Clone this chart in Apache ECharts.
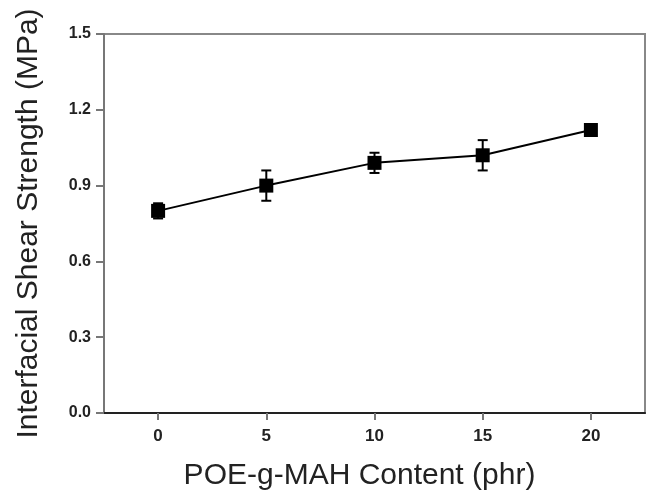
<!DOCTYPE html>
<html>
<head>
<meta charset="utf-8">
<script src="https://cdn.jsdelivr.net/npm/echarts@6/dist/echarts.min.js"></script>
<style>
  html, body { margin: 0; padding: 0; background: #fff; }
  #main { width: 661px; height: 497px; }
</style>
</head>
<body>
<div id="main"></div>
<script>
// POE-g-MAH content (phr)
const content = [0, 5, 10, 15, 20]
// interfacial shear strength (MPa)
const strength = [0.80, 0.90, 0.99, 1.02, 1.12]
// error (+/-)
const errors = [0.03, 0.06, 0.04, 0.06, 0.02]
const xTicks = [0, 5, 10, 15, 20]

const chartDom = document.getElementById('main')
const myChart = echarts.init(chartDom)

const font = '"Liberation Sans", Arial, sans-serif'

let option = {
  backgroundColor: '#ffffff',
  animation: false,
  grid: {
    left: 104,
    top: 34,
    right: 16,
    bottom: 84,
    show: true,
    borderColor: '#888',
    borderWidth: 2,
  },
  xAxis: {
    type: 'value',
    min: -2.5,
    max: 22.5,
    name: 'POE-g-MAH Content (phr)',
    nameLocation: 'middle',
    nameGap: 48,
    nameTextStyle: { fontFamily: font, fontSize: 30, color: '#222', padding: [0, 30, 0, 0] },
    splitLine: { show: false },
    axisLine: { onZero: false, lineStyle: { color: '#222', width: 2 } },
    axisTick: {
      customValues: xTicks,
      length: 7,
      lineStyle: { color: '#777', width: 2 },
    },
    axisLabel: {
      customValues: xTicks,
      fontFamily: font,
      fontSize: 17,
      fontWeight: 'bold',
      color: '#222',
      margin: 15,
    },
  },
  yAxis: {
    type: 'value',
    min: 0,
    max: 1.5,
    interval: 0.3,
    name: 'Interfacial Shear Strength (MPa)',
    nameLocation: 'middle',
    nameGap: 60,
    nameTextStyle: { fontFamily: font, fontSize: 30, color: '#222' },
    splitLine: { show: false },
    axisLine: { show: true, onZero: false, lineStyle: { color: '#777', width: 2 } },
    axisTick: { show: true, length: 8, lineStyle: { color: '#777', width: 2 } },
    axisLabel: {
      fontFamily: font,
      fontSize: 16,
      fontWeight: 'bold',
      color: '#222',
      margin: 13,
      formatter: (v) => v.toFixed(1),
    },
  },
  series: [
    {
      type: 'custom',
      data: content.map((x, i) => [x, strength[i] - errors[i], strength[i] + errors[i]]),
      renderItem: (params, api) => {
        const lo = api.coord([api.value(0), api.value(1)])
        const hi = api.coord([api.value(0), api.value(2)])
        const w = 5
        const style = { stroke: '#000', lineWidth: 2 }
        return {
          type: 'group',
          children: [
            { type: 'line', shape: { x1: lo[0], y1: lo[1], x2: hi[0], y2: hi[1] }, style },
            { type: 'line', shape: { x1: lo[0] - w, y1: lo[1], x2: lo[0] + w, y2: lo[1] }, style },
            { type: 'line', shape: { x1: hi[0] - w, y1: hi[1], x2: hi[0] + w, y2: hi[1] }, style },
          ],
        }
      },
      z: 2,
    },
    {
      type: 'line',
      data: content.map((x, i) => [x, strength[i]]),
      symbol: 'rect',
      symbolSize: 14,
      lineStyle: { color: '#000', width: 2 },
      itemStyle: { color: '#000' },
      z: 3,
    },
  ],
}
myChart.setOption(option)
</script>
</body>
</html>
